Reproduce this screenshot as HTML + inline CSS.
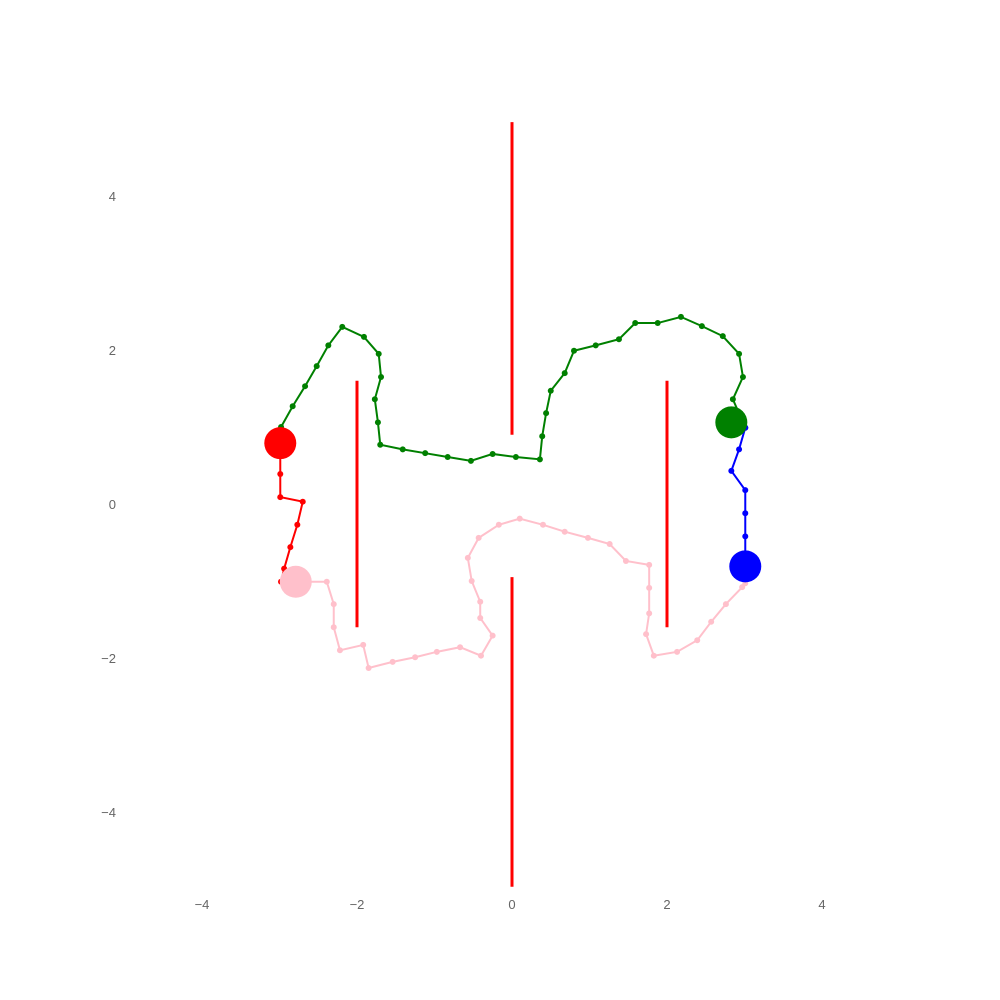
<!DOCTYPE html>
<html><head><meta charset="utf-8"><style>
html,body{margin:0;padding:0;background:#fff;}
svg{display:block;}
text{font-family:"Liberation Sans",sans-serif;font-size:13px;fill:#666;}
</style></head><body>
<svg id="chart" width="1000" height="1000" viewBox="0 0 1000 1000" xmlns="http://www.w3.org/2000/svg">
<g id="axes"></g>
<g id="walls"></g>
<g id="paths"></g>
</svg>
<script>
const xTicks=[-4,-2,0,2,4];
const yTicks=[-4,-2,0,2,4];
const xTickLabels=["−4","−2","0","2","4"];
const yTickLabels=["−4","−2","0","2","4"];
const wallX=[0,0,-2,2];
const wallY0=[4.96,-0.95,1.6,1.6];
const wallY1=[0.9,-4.97,-1.6,-1.6];
const greenX=[-2.98,-2.83,-2.67,-2.52,-2.37,-2.19,-1.91,-1.72,-1.69,-1.77,-1.73,-1.70,-1.41,-1.12,-0.83,-0.53,-0.25,0.05,0.36,0.39,0.44,0.50,0.68,0.80,1.08,1.38,1.59,1.88,2.18,2.45,2.72,2.93,2.98,2.85,3.01];
const greenY=[1.00,1.27,1.53,1.79,2.06,2.30,2.17,1.95,1.65,1.36,1.06,0.77,0.71,0.66,0.61,0.56,0.65,0.61,0.58,0.88,1.18,1.47,1.70,1.99,2.06,2.14,2.35,2.35,2.43,2.31,2.18,1.95,1.65,1.36,0.99];
const blueX=[3.01,2.93,2.83,3.01,3.01,3.01,3.01];
const blueY=[0.99,0.71,0.43,0.18,-0.12,-0.42,-0.81];
const pinkX=[3.01,2.97,2.76,2.57,2.39,2.13,1.83,1.73,1.77,1.77,1.77,1.47,1.26,0.98,0.68,0.40,0.10,-0.17,-0.43,-0.57,-0.52,-0.41,-0.41,-0.25,-0.40,-0.67,-0.97,-1.25,-1.54,-1.85,-1.92,-2.22,-2.30,-2.30,-2.39,-2.98];
const pinkY=[-1.03,-1.08,-1.30,-1.53,-1.77,-1.92,-1.97,-1.69,-1.42,-1.09,-0.79,-0.74,-0.52,-0.44,-0.36,-0.27,-0.19,-0.27,-0.44,-0.70,-1.00,-1.27,-1.48,-1.71,-1.97,-1.86,-1.92,-1.99,-2.05,-2.13,-1.83,-1.90,-1.60,-1.30,-1.01,-1.01];
const redX=[-2.99,-2.99,-2.99,-2.70,-2.77,-2.86,-2.94,-2.98];
const redY=[0.79,0.39,0.09,0.03,-0.27,-0.56,-0.84,-1.01];
const agentX=[-2.99,2.83,3.01,-2.79];
const agentY=[0.79,1.06,-0.81,-1.01];
const agentNames=["red","green","blue","pink"];
const agentColors=["#ff0000","#008000","#0000ff","#ffc0cb"];

const NS="http://www.w3.org/2000/svg";
function sx(v){return 512+v*77.5;}
function sy(v){return 504-v*77;}
function mk(tag,attrs,parent){const e=document.createElementNS(NS,tag);for(const k in attrs)e.setAttribute(k,attrs[k]);parent.appendChild(e);return e;}
const axes=document.getElementById('axes');
xTicks.forEach((t,i)=>{
  const tx=mk('text',{x:sx(t),y:909,'text-anchor':'middle'},axes);
  tx.textContent=xTickLabels[i];
  
  
});
yTicks.forEach((t,i)=>{
  const tx=mk('text',{x:116,y:sy(t)+5,'text-anchor':'end'},axes);
  tx.textContent=yTickLabels[i];
  
  
});
const walls=document.getElementById('walls');
wallX.forEach((w,i)=>{
  const l=mk('line',{x1:sx(w),x2:sx(w),y1:sy(wallY0[i]),y2:sy(wallY1[i]),stroke:'#ff0000','stroke-width':3},walls);
  
  
});
const paths=document.getElementById('paths');
function drawPath(xs,ys,color,name){
  const g=mk('g',{},paths);
  
  
  const pts=xs.map((x,i)=>sx(x)+','+sy(ys[i])).join(' ');
  mk('polyline',{points:pts,fill:'none',stroke:color,'stroke-width':2},g);
  xs.forEach((x,i)=>{
    const c=mk('circle',{cx:sx(x),cy:sy(ys[i]),r:3,fill:color},g);
    
    
  });
}
drawPath(greenX,greenY,'#008000','green');
drawPath(blueX,blueY,'#0000ff','blue');
drawPath(pinkX,pinkY,'#ffc0cb','pink');
drawPath(redX,redY,'#ff0000','red');
agentX.forEach((x,i)=>{
  const c=mk('circle',{cx:sx(x),cy:sy(agentY[i]),r:16,fill:agentColors[i]},paths);
  
  
});
</script>
</body></html>
